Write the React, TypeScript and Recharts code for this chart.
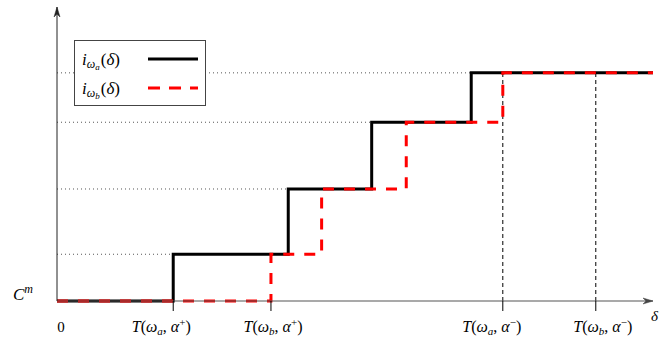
import React from 'react';
import { LineChart, Line, XAxis, YAxis, ReferenceLine, ReferenceDot } from 'recharts';

// step positions (x, in % of delta range) and levels (y, in % of range)
const stepsA = [0, 19.5, 38.8, 52.8, 69.5, 100];
const stepsB = [0, 35.9, 44.4, 58.6, 74.8, 100];
const levels = [0, 15.9, 38.1, 60.8, 77.6, 77.6];
const xTicks = [0, 19.5, 35.9, 74.8, 90.4];
const tickSubs = ['', 'a', 'b', 'a', 'b'];
const tickSups = ['', '+', '+', '−', '−'];
const seriesNames = ['a', 'b'];

const dataA = stepsA.map((x, i) => ({ x, y: levels[i] }));
const dataB = stepsB.map((x, i) => ({ x, y: levels[i] }));

const FONT = '"Liberation Serif", "DejaVu Serif", serif';
const TICK_DX = [4, -12, 2, -11, 7];

const XTick = (props: any) => {
  const { x, y, payload } = props;
  const i = xTicks.indexOf(payload.value);
  const dx = TICK_DX[i] ?? 0;
  if (i === 0) {
    return (
      <text x={x + dx} y={y + 21} textAnchor="middle" fontFamily={FONT} fontSize={15} fill="#000">0</text>
    );
  }
  return (
    <g>
      <line x1={x} y1={y - 10} x2={x} y2={y} stroke="#000" strokeWidth={1} />
      <text x={x + dx} y={y + 21} textAnchor="middle" fontFamily={FONT} fontSize={16} fill="#000">
        <tspan fontStyle="italic">T</tspan>
        <tspan>(</tspan>
        <tspan fontStyle="italic">ω</tspan>
        <tspan fontStyle="italic" fontSize={11} dy={3}>{tickSubs[i]}</tspan>
        <tspan dy={-3}>, </tspan>
        <tspan fontStyle="italic">α</tspan>
        <tspan fontSize={11} dy={-6}>{tickSups[i]}</tspan>
        <tspan dy={6}>)</tspan>
      </text>
    </g>
  );
};

const YTick = (props: any) => {
  const { x, y } = props;
  return (
    <text x={x - 16} y={y - 1} textAnchor="end" fontFamily={FONT} fontSize={17} fill="#000">
      <tspan fontStyle="italic">C</tspan>
      <tspan fontStyle="italic" fontSize={12} dy={-7}>m</tspan>
    </text>
  );
};

const ArrowUp = (props: any) => {
  const { cx, cy } = props;
  return <path d={`M${cx},${cy} L${cx - 3},${cy + 10} L${cx},${cy + 7} L${cx + 3},${cy + 10} Z`} fill="#222" stroke="#222" strokeWidth={0.5} />;
};

const ArrowRight = (props: any) => {
  const { cx, cy } = props;
  return (
    <g>
      <path d={`M${cx},${cy} L${cx - 10},${cy - 3} L${cx - 7},${cy} L${cx - 10},${cy + 3} Z`} fill="#444" stroke="#444" strokeWidth={0.5} />
      <text x={cx - 2} y={cy + 20} fontFamily={FONT} fontStyle="italic" fontSize={15} fill="#000">δ</text>
    </g>
  );
};

const LegendLabel = ({ x, y, sub }: { x: number; y: number; sub: string }) => (
  <text x={x} y={y} fontFamily={FONT} fontSize={17} fill="#000">
    <tspan fontStyle="italic">i</tspan>
    <tspan fontStyle="italic" fontSize={12} dy={3}>ω</tspan>
    <tspan fontStyle="italic" fontSize={9} dy={2}>{sub}</tspan>
    <tspan dy={-5} dx={1}>(</tspan>
    <tspan fontStyle="italic">δ</tspan>
    <tspan>)</tspan>
  </text>
);

const LegendBox = () => (
  <div style={{ position: 'absolute', left: 74, top: 40, width: 132, height: 66, background: '#fff', border: '1px solid #444', boxSizing: 'border-box' }}>
    <svg width={130} height={64} style={{ display: 'block' }}>
      <LegendLabel x={7} y={24} sub={seriesNames[0]} />
      <line x1={73} y1={18} x2={123} y2={18} stroke="#000" strokeWidth={3} />
      <LegendLabel x={7} y={53} sub={seriesNames[1]} />
      <line x1={73} y1={47} x2={123} y2={47} stroke="#ff0000" strokeWidth={3} strokeDasharray="12 9" />
    </svg>
  </div>
);

export default function App() {
  return (
    <div style={{ position: 'absolute', left: 0, top: 0, width: 659, height: 344, background: '#fff' }}>
      <LineChart width={659} height={344} margin={{ top: 7, right: 6, left: 56, bottom: 0 }}>
        <XAxis
          dataKey="x"
          type="number"
          domain={[0, 100]}
          ticks={xTicks}
          interval={0}
          allowDataOverflow
          axisLine={{ stroke: '#555', strokeWidth: 1.2 }}
          tickLine={false}
          tickSize={10}
          tickMargin={0}
          tick={<XTick />}
          height={43}
        />
        <YAxis
          type="number"
          domain={[0, 100]}
          ticks={[0]}
          interval={0}
          width={1}
          axisLine={{ stroke: '#222', strokeWidth: 1 }}
          tickLine={false}
          tick={<YTick />}
        />
        {levels.slice(1, 5).map((lv, i) => (
          <ReferenceLine
            key={'dot' + i}
            segment={[{ x: 0, y: lv }, { x: stepsA[i + 1], y: lv }]}
            stroke="#555"
            strokeWidth={1}
            strokeDasharray="1 3"
            ifOverflow="visible"
          />
        ))}
        <ReferenceLine
          segment={[{ x: stepsB[4], y: 0 }, { x: stepsB[4], y: levels[4] }]}
          stroke="#000"
          strokeWidth={1}
          strokeDasharray="4 3"
        />
        <ReferenceLine
          segment={[{ x: xTicks[4], y: 0 }, { x: xTicks[4], y: levels[4] }]}
          stroke="#000"
          strokeWidth={1}
          strokeDasharray="4 3"
        />
        <Line
          data={dataA}
          dataKey="y"
          type="stepAfter"
          stroke="#000"
          strokeWidth={3}
          dot={false}
          activeDot={false}
          isAnimationActive={false}
        />
        <Line
          data={dataB}
          dataKey="y"
          type="stepAfter"
          stroke="#ff0000"
          strokeWidth={3}
          strokeDasharray="11 10"
          dot={false}
          activeDot={false}
          isAnimationActive={false}
        />
        <ReferenceDot x={0} y={100} r={0} ifOverflow="visible" shape={<ArrowUp />} />
        <ReferenceDot x={100} y={0} r={0} ifOverflow="visible" shape={<ArrowRight />} />
      </LineChart>
      <LegendBox />
    </div>
  );
}
